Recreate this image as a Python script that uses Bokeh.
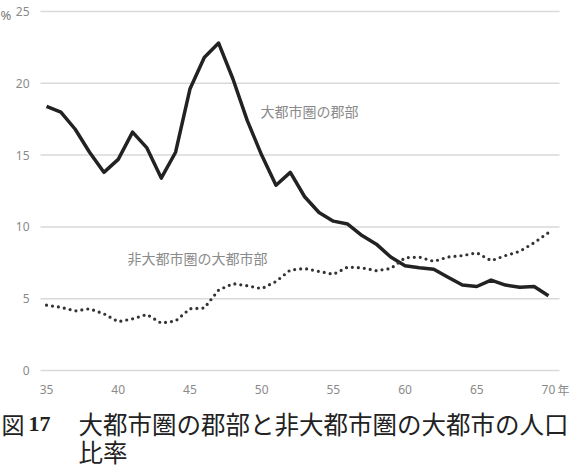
from bokeh.plotting import figure
from bokeh.models import Range1d, FixedTicker, Label
from bokeh.embed import file_html
from bokeh.resources import INLINE

# ---- data ----
years = list(range(35, 71))
gunbu = [18.4, 18.0, 16.8, 15.2, 13.8, 14.7, 16.6, 15.5, 13.4, 15.2,
         19.6, 21.8, 22.8, 20.3, 17.4, 15.0, 12.9, 13.8, 12.1, 11.0,
         10.4, 10.2, 9.4, 8.8, 7.9, 7.3, 7.15, 7.05, 6.5, 5.95,
         5.85, 6.3, 5.95, 5.8, 5.85, 5.2]
daitoshi = [4.55, 4.4, 4.15, 4.3, 3.95, 3.4, 3.6, 3.9, 3.3, 3.45,
            4.3, 4.35, 5.6, 6.05, 5.9, 5.7, 6.2, 7.0, 7.1, 6.9,
            6.7, 7.2, 7.15, 6.95, 7.1, 7.85, 7.9, 7.6, 7.9, 8.0,
            8.2, 7.65, 8.0, 8.3, 8.9, 9.6]
x_ticks = [35, 40, 45, 50, 55, 60, 65, 70]
y_ticks = [0, 5, 10, 15, 20, 25]
label_gunbu = "大都市圏の郡部"
label_daitoshi = "非大都市圏の大都市部"
caption_fig = "図"
caption_num = "17"
caption_line1 = "大都市圏の郡部と非大都市圏の大都市の人口"
caption_line2 = "比率"

# ---- layout: the frame covers the whole canvas; axes are pinned in place ----
W, H = 570, 468
PL, PR, PT, PB = 40, 559, 11, 370          # plot-area edges in canvas pixels
DX0, DX1 = 34.58, 70.77                    # data x at PL / PR
DY0, DY1 = 0.0, 25.0                       # data y at PB / PT
sx = (DX1 - DX0) / (PR - PL)
sy = (DY1 - DY0) / (PB - PT)

def xd(px):
    return DX0 + (px - PL) * sx

def yd(py):
    return DY0 + (PB - py) * sy

p = figure(width=W, height=H, output_backend="svg", toolbar_location=None,
           x_range=Range1d(xd(0), xd(W)), y_range=Range1d(yd(H), yd(0)),
           min_border=0, min_border_left=0, min_border_right=0,
           min_border_top=0, min_border_bottom=0)
p.outline_line_color = None
p.background_fill_color = "white"
p.border_fill_color = "white"

p.xaxis.fixed_location = DY0
p.yaxis.fixed_location = DX0

# horizontal gridlines limited to the plot area, one per y tick
p.xgrid.grid_line_color = None
p.ygrid.grid_line_color = None
p.segment(x0=[xd(PL)] * len(y_ticks), x1=[xd(PR)] * len(y_ticks),
          y0=y_ticks, y1=y_ticks, line_color="#d9d9d9", line_width=1.5)

for ax in (p.xaxis, p.yaxis):
    ax.axis_line_color = None
    ax.major_tick_line_color = None
    ax.minor_tick_line_color = None
    ax.major_label_text_color = "#8a8a8a"
    ax.major_label_text_font = "Noto Sans"
    ax.major_label_text_font_size = "12px"
p.xaxis.ticker = FixedTicker(ticks=x_ticks)
p.yaxis.ticker = FixedTicker(ticks=y_ticks)
p.xaxis.major_label_standoff = 8
p.yaxis.major_label_standoff = 5

p.line(years, gunbu, line_color="#222222", line_width=3.5, line_join="round")
p.line(years, daitoshi, line_color="#333333", line_width=3.2,
       line_dash="0 6", line_cap="round")

def lab(text, px, py, size, color, font="Noto Sans CJK JP", align="left",
        style="normal"):
    p.add_layout(Label(x=xd(px), y=yd(py), text=text, text_font=font,
                       text_font_size=size, text_color=color, text_align=align,
                       text_baseline="middle", text_font_style=style))

lab(label_gunbu, 260, 110, "14px", "#8a8a8a")
lab(label_daitoshi, 127, 257, "14px", "#8a8a8a")
lab("%", 0, 14, "13px", "#777777", font="Noto Sans")
lab("年", 557, 389, "12px", "#8a8a8a")

lab(caption_fig, 1, 423, "23px", "#222222")
lab(caption_num, 28, 423, "22px", "#222222", font="Liberation Serif", style="bold")
lab(caption_line1, 78, 423, "24.5px", "#222222")
lab(caption_line2, 78, 451, "24.5px", "#222222")

open("out.html", "w").write(file_html(p, INLINE))
